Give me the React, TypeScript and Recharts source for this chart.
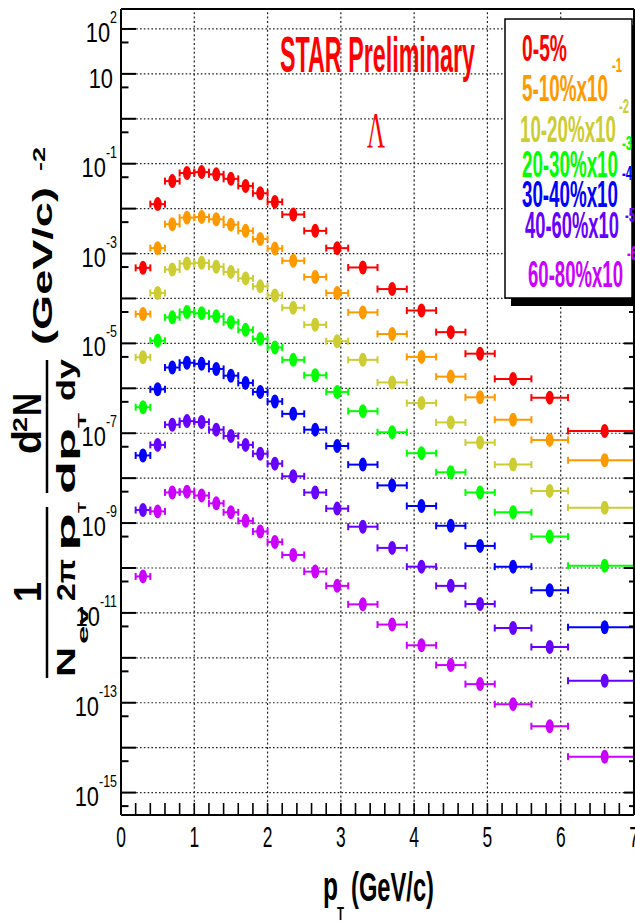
import React from "react";
import {
  ComposedChart,
  ErrorBar,
  ReferenceLine,
  Scatter,
  XAxis,
  YAxis,
} from "recharts";

// pT bin centres and half widths (GeV/c)
const PT = [0.3, 0.5, 0.7, 0.9, 1.1, 1.3, 1.5, 1.7, 1.9, 2.1, 2.35, 2.65, 2.95, 3.3, 3.7, 4.1, 4.5, 4.9, 5.35, 5.85, 6.6];
const PT_ERR = [0.1, 0.1, 0.1, 0.1, 0.1, 0.1, 0.1, 0.1, 0.1, 0.1, 0.15, 0.15, 0.15, 0.2, 0.2, 0.2, 0.2, 0.2, 0.25, 0.25, 0.5];

// plotted yields (already multiplied by the legend scale factor)
const C0_5 = [4.8e-4, 1.26e-2, 4.1e-2, 6.2e-2, 6.5e-2, 5.8e-2, 4.6e-2, 3.2e-2, 2.2e-2, 1.41e-2, 7.4e-3, 3.2e-3, 1.32e-3, 4.9e-4, 1.62e-4, 5.4e-5, 1.78e-5, 5.9e-6, 1.62e-6, 6.2e-7, 1.12e-7];
const C5_10 = [4.5e-5, 1.32e-3, 4.5e-3, 6.3e-3, 6.5e-3, 5.8e-3, 4.4e-3, 3.2e-3, 2.1e-3, 1.29e-3, 6.9e-4, 3.0e-4, 1.32e-4, 4.9e-5, 1.62e-5, 5.0e-6, 1.82e-6, 6.3e-7, 2.0e-7, 7.1e-8, 2.5e-8];
const C10_20 = [4.9e-6, 1.32e-4, 4.4e-4, 6.0e-4, 6.2e-4, 5.1e-4, 3.9e-4, 2.8e-4, 1.86e-4, 1.17e-4, 6.2e-5, 2.6e-5, 1.12e-5, 4.3e-6, 1.35e-6, 4.7e-7, 1.74e-7, 6.2e-8, 2.0e-8, 5.2e-9, 2.2e-9];
const C20_30 = [3.8e-7, 1.15e-5, 3.8e-5, 5.0e-5, 4.7e-5, 4.0e-5, 2.95e-5, 2.0e-5, 1.26e-5, 8.1e-6, 4.3e-6, 1.95e-6, 8.3e-7, 3.1e-7, 1.05e-7, 3.6e-8, 1.35e-8, 4.8e-9, 1.74e-9, 5.0e-10, 1.12e-10];
const C30_40 = [3.2e-8, 9.5e-7, 2.9e-6, 3.7e-6, 3.5e-6, 2.7e-6, 1.91e-6, 1.32e-6, 8.3e-7, 5.1e-7, 2.7e-7, 1.2e-7, 5.2e-8, 2.0e-8, 6.9e-9, 2.4e-9, 8.7e-10, 3.1e-10, 1.07e-10, 3.2e-11, 4.8e-12];
const C40_60 = [1.95e-9, 5.5e-8, 1.55e-7, 1.86e-7, 1.78e-7, 1.2e-7, 8.7e-8, 5.5e-8, 3.5e-8, 2.1e-8, 1.1e-8, 4.8e-9, 2.1e-9, 8.3e-10, 2.8e-10, 1.07e-10, 4.0e-11, 1.58e-11, 4.6e-12, 1.74e-12, 3.1e-13];
const C60_80 = [6.5e-11, 1.82e-9, 4.8e-9, 5.0e-9, 4.1e-9, 2.75e-9, 1.74e-9, 1.12e-9, 6.5e-10, 3.8e-10, 1.95e-10, 8.3e-11, 4.0e-11, 1.55e-11, 5.5e-12, 1.9e-12, 6.9e-13, 2.6e-13, 9.3e-14, 3.0e-14, 6.3e-15];

const SERIES = [C0_5, C5_10, C10_20, C20_30, C30_40, C40_60, C60_80];
const LABELS = ["0-5%", "5-10%x10", "10-20%x10", "20-30%x10", "30-40%x10", "40-60%x10", "60-80%x10"];
const SCALE_EXP = ["", "-1", "-2", "-3", "-4", "-5", "-6"];
const COLORS = ["#ff0000", "#ff9900", "#cccc33", "#00ff00", "#0000ff", "#6600ff", "#cc00ff"];

const Y_DECADES = [1e-15, 1e-14, 1e-13, 1e-12, 1e-11, 1e-10, 1e-9, 1e-8, 1e-7, 1e-6, 1e-5, 1e-4, 1e-3, 1e-2, 1e-1, 1, 10, 100];
const Y_MINOR = [5e-16, 5e-15, 5e-14, 5e-13, 5e-12, 5e-11, 5e-10, 5e-9, 5e-8, 5e-7, 5e-6, 5e-5, 5e-4, 5e-3, 5e-2, 0.5, 5, 50];
const Y_LABELED = [2, 1, -1, -3, -5, -7, -9, -11, -13, -15];
const X_TICKS = [0, 0.2, 0.4, 0.6, 0.8, 1, 1.2, 1.4, 1.6, 1.8, 2, 2.2, 2.4, 2.6, 2.8, 3, 3.2, 3.4, 3.6, 3.8, 4, 4.2, 4.4, 4.6, 4.8, 5, 5.2, 5.4, 5.6, 5.8, 6, 6.2, 6.4, 6.6, 6.8, 7];
const X_GRID = [1, 2, 3, 4, 5, 6];
const X_LABELS = [0, 1, 2, 3, 4, 5, 6, 7];

const Y_DOMAIN = [3.17e-16, 278];

// legend text placement
const LEGEND_POS = [
  { x: 522, y: 61, len: 45, sx: 0, sy: 0 },
  { x: 522, y: 101, len: 86, sx: 612, sy: 72 },
  { x: 520, y: 142, len: 96, sx: 619, sy: 113 },
  { x: 522, y: 177, len: 96, sx: 622, sy: 150 },
  { x: 522, y: 207, len: 96, sx: 622, sy: 180 },
  { x: 525, y: 238, len: 94, sx: 625, sy: 222 },
  { x: 528, y: 287, len: 95, sx: 627, sy: 260 },
];

const SANS = "'Liberation Sans', Arial, Helvetica, sans-serif";
const GRID = { stroke: "#222", strokeWidth: 1.2, strokeDasharray: "1.6 2.2" };

function isDecade(v: number) {
  const lg = Math.log10(v);
  return Math.abs(lg - Math.round(lg)) < 1e-6;
}

function LeftTick(props: any) {
  const { x, y, payload } = props;
  const v = payload.value as number;
  const major = isDecade(v);
  const e = Math.round(Math.log10(v));
  const showLabel = major && Y_LABELED.includes(e);
  return (
    <g>
      <line x1={x} x2={x + (major ? 15 : 7.5)} y1={y} y2={y} stroke="#000" strokeWidth={2} />
      {showLabel && e === 1 ? (
        <g transform={`translate(113,${y + 14}) scale(0.78,1)`}>
          <text textAnchor="end" fontFamily={SANS} fontSize={28} fill="#000">10</text>
        </g>
      ) : null}
      {showLabel && e !== 1 ? (
        <g transform={`translate(117,${y + 13}) scale(0.78,1)`}>
          <text textAnchor="end" fontFamily={SANS} fontSize={28} fill="#000">
            <tspan>10</tspan>
            <tspan dy={-19} fontSize={16}>{String(e)}</tspan>
          </text>
        </g>
      ) : null}
    </g>
  );
}

function RightTick(props: any) {
  const { x, y, payload } = props;
  const major = isDecade(payload.value);
  return <line x1={x} x2={x - (major ? 10 : 5)} y1={y} y2={y} stroke="#000" strokeWidth={2} />;
}

function BottomTick(props: any) {
  const { x, y, payload } = props;
  const v = payload.value as number;
  const isInt = X_LABELS.includes(v);
  return (
    <g>
      <line x1={x} x2={x} y1={y} y2={y - 12} stroke="#000" strokeWidth={1.6} />
      {isInt ? (
        <g transform={`translate(${x},847) scale(0.58,1)`}>
          <text textAnchor="middle" fontFamily={SANS} fontSize={30} fill="#000">
            {String(v)}
          </text>
        </g>
      ) : null}
    </g>
  );
}

function TopTick(props: any) {
  const { x, y } = props;
  return <line x1={x} x2={x} y1={y} y2={y + 13} stroke="#000" strokeWidth={1.6} />;
}

function makeMarker(color: string) {
  return (p: any) => <ellipse cx={p.cx} cy={p.cy} rx={4} ry={7} fill={color} />;
}

// rotated piece of the y-axis title: (x = baseline, y = start of text)
function VText(props: { x: number; y: number; size: number; len: number; children: React.ReactNode }) {
  return (
    <text
      transform={`translate(${props.x},${props.y}) rotate(-90)`}
      fontFamily={SANS}
      fontWeight="bold"
      fontSize={props.size}
      textLength={props.len}
      lengthAdjust="spacingAndGlyphs"
      fill="#000"
    >
      {props.children}
    </text>
  );
}

function HText(props: {
  x: number;
  y: number;
  size: number;
  len: number;
  color?: string;
  family?: string;
  weight?: string;
  children: React.ReactNode;
}) {
  return (
    <text
      x={props.x}
      y={props.y}
      fontFamily={props.family ?? SANS}
      fontWeight={props.weight ?? "bold"}
      fontSize={props.size}
      textLength={props.len}
      lengthAdjust="spacingAndGlyphs"
      fill={props.color ?? "#000"}
    >
      {props.children}
    </text>
  );
}

export default function App() {
  const yTicks = [...Y_MINOR, ...Y_DECADES].sort((a, b) => a - b);
  const datasets = SERIES.map((ys) => PT.map((pt, i) => ({ pt, ex: PT_ERR[i], y: ys[i] })));

  return (
    <div style={{ position: "absolute", left: 0, top: 0, width: 635, height: 922, background: "#fff" }}>
      <ComposedChart width={635} height={922} margin={{ top: 0, right: 0, bottom: 0, left: 0 }}>
        <XAxis
          dataKey="pt"
          type="number"
          domain={[0, 7]}
          allowDataOverflow
          ticks={X_TICKS}
          interval={0}
          height={107}
          tickSize={0}
          tickMargin={0}
          tickLine={false}
          tick={<BottomTick />}
          axisLine={{ stroke: "#000", strokeWidth: 2 }}
        />
        <XAxis
          xAxisId="t"
          orientation="top"
          type="number"
          domain={[0, 7]}
          allowDataOverflow
          ticks={X_TICKS}
          interval={0}
          height={9}
          tickSize={0}
          tickMargin={0}
          tickLine={false}
          tick={<TopTick />}
          axisLine={{ stroke: "#000", strokeWidth: 2 }}
        />
        <YAxis
          dataKey="y"
          type="number"
          scale="log"
          domain={Y_DOMAIN}
          allowDataOverflow
          ticks={yTicks}
          interval={0}
          width={121}
          tickSize={0}
          tickMargin={0}
          tickLine={false}
          tick={<LeftTick />}
          axisLine={{ stroke: "#000", strokeWidth: 2 }}
        />
        <YAxis
          yAxisId="r"
          orientation="right"
          type="number"
          scale="log"
          domain={Y_DOMAIN}
          allowDataOverflow
          ticks={yTicks}
          interval={0}
          width={1}
          tickSize={0}
          tickMargin={0}
          tickLine={false}
          tick={<RightTick />}
          axisLine={{ stroke: "#000", strokeWidth: 2 }}
        />
        {Y_DECADES.map((v) => (
          <ReferenceLine key={`gy${v}`} y={v} {...GRID} />
        ))}
        {X_GRID.map((v) => (
          <ReferenceLine key={`gx${v}`} x={v} stroke="#222" strokeWidth={1.2} strokeDasharray="2 2.4" />
        ))}
        {datasets.map((data, k) => (
          <Scatter
            key={LABELS[k]}
            name={LABELS[k]}
            data={data}
            fill={COLORS[k]}
            shape={makeMarker(COLORS[k])}
            isAnimationActive={false}
          >
            <ErrorBar dataKey="ex" direction="x" width={3.5} stroke={COLORS[k]} strokeWidth={2} />
          </Scatter>
        ))}
      </ComposedChart>

      <svg
        width={635}
        height={922}
        style={{ position: "absolute", left: 0, top: 0, pointerEvents: "none" }}
      >
        {/* annotations */}
        <HText x={280} y={72} size={50} len={195} color="#ff0000">STAR Preliminary</HText>
        <HText x={367} y={147} size={50} len={18} color="#ff0000" family="'Liberation Serif', 'Times New Roman', serif" weight="normal">
          Λ
        </HText>

        {/* legend */}
        <rect x={511} y={25} width={130} height={281} fill="#000" />
        <rect x={505} y={19} width={127} height={279} fill="#fff" stroke="#000" strokeWidth={1.5} />
        {LABELS.map((lab, k) => (
          <g key={lab}>
            <HText x={LEGEND_POS[k].x} y={LEGEND_POS[k].y} size={36} len={LEGEND_POS[k].len} color={COLORS[k]}>
              {lab}
            </HText>
            {SCALE_EXP[k] ? (
              <HText x={LEGEND_POS[k].sx} y={LEGEND_POS[k].sy} size={20} len={10} color={COLORS[k]}>
                {SCALE_EXP[k]}
              </HText>
            ) : null}
          </g>
        ))}

        {/* x-axis title */}
        <HText x={323} y={900} size={40} len={15}>p</HText>
        <HText x={337} y={920} size={18} len={7}>T</HText>
        <HText x={351} y={901} size={40} len={83}>(GeV/c)</HText>

        {/* y-axis title */}
        <VText x={41} y={602} size={39} len={20}>1</VText>
        <line x1={47} x2={47} y1={507} y2={678} stroke="#000" strokeWidth={2.5} />
        <VText x={75} y={677} size={25} len={30}>N</VText>
        <VText x={88} y={644} size={15} len={37}>ev</VText>
        <VText x={75} y={601} size={25} len={42}>2π</VText>
        <VText x={75} y={551} size={25} len={38}>p</VText>
        <VText x={86} y={513} size={11} len={11}>T</VText>

        <VText x={41} y={454} size={40} len={24}>d</VText>
        <VText x={27} y={432} size={21} len={15}>2</VText>
        <VText x={41} y={416} size={40} len={23}>N</VText>
        <line x1={47} x2={47} y1={360} y2={493} stroke="#000" strokeWidth={2.5} />
        <VText x={75} y={494} size={25} len={66}>dp</VText>
        <VText x={86} y={428} size={11} len={15}>T</VText>
        <VText x={75} y={401} size={25} len={42}>dy</VText>

        <VText x={52} y={345} size={27} len={158}>(GeV/c)</VText>
        <VText x={45} y={171} size={17} len={24}>-2</VText>
      </svg>
    </div>
  );
}
